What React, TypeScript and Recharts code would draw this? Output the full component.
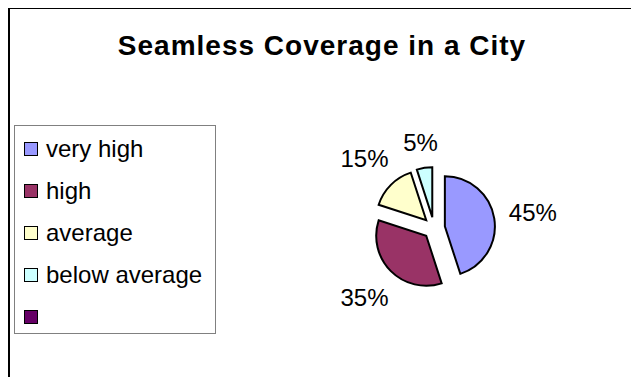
import React from "react";
import { PieChart, Pie, Cell, Legend, Sector } from "recharts";

const categories = ["very high", "high", "average", "below average", ""];
const values = [45, 35, 15, 5, 0];
const colors = ["#9999FF", "#993366", "#FFFFCC", "#CCFFFF", "#660066"];

const data = categories.map((name, i) => ({ name, value: values[i] }));

const RADIAN = Math.PI / 180;
const EXPLODE = 11;
const FONT = "Arial, 'Liberation Sans', sans-serif";
const LABEL_SIZE = 24;

// each slice is pushed out along its own bisector
const ExplodedSlice = (props: any) => {
  if (!props.value) return null;
  const { cx, cy, midAngle } = props;
  const dx = EXPLODE * Math.cos(-midAngle * RADIAN);
  const dy = EXPLODE * Math.sin(-midAngle * RADIAN);
  return <Sector {...props} cx={cx + dx} cy={cy + dy} stroke="#000" strokeWidth={2} />;
};

const renderLabel = (props: any) => {
  const { cx, cy, midAngle, outerRadius, percent, value } = props;
  if (!value) return null;
  const text = `${Math.round(percent * 100)}%`;
  const cos = Math.cos(-midAngle * RADIAN);
  const sin = Math.sin(-midAngle * RADIAN);
  // half the text box, so the box edge sits a fixed gap off the slice
  const halfW = ((text.length - 1) * 0.556 + 0.889) * LABEL_SIZE * 0.5;
  const halfH = LABEL_SIZE * 0.37;
  const r = outerRadius + EXPLODE + 14 + halfW * Math.abs(cos) + halfH * Math.abs(sin);
  return (
    <text
      x={cx + r * cos}
      y={cy + r * sin}
      textAnchor="middle"
      dominantBaseline="central"
      fill="#000"
      fontSize={LABEL_SIZE}
      fontFamily={FONT}
    >
      {text}
    </text>
  );
};

const LegendBox = () => (
  <div style={{ fontFamily: FONT, fontSize: 24, color: "#000", paddingTop: 2 }}>
    {categories.map((name, i) => (
      <div key={`legend-${i}`} style={{ display: "flex", alignItems: "center", height: 42 }}>
        <span
          style={{
            display: "inline-block",
            width: 12,
            height: 12,
            background: colors[i],
            border: "1px solid #000",
            marginLeft: 9,
            marginRight: 8,
          }}
        />
        <span>{name}</span>
      </div>
    ))}
  </div>
);

const App: React.FC = () => {
  return (
    <div
      style={{
        position: "relative",
        marginLeft: -1,
        marginTop: -1,
        width: 628,
        height: 368,
        borderLeft: "3px solid #000",
        borderTop: "2px solid #000",
        background: "#fff",
      }}
    >
      <div
        style={{
          position: "absolute",
          left: 0,
          top: 23,
          width: 624,
          textAlign: "center",
          fontFamily: FONT,
          fontWeight: "bold",
          fontSize: 28,
          lineHeight: "28px",
          letterSpacing: 1,
        }}
      >
        Seamless Coverage in a City
      </div>
      <PieChart width={628} height={368} margin={{ top: 0, right: 0, bottom: 0, left: 0 }}>
        <Pie
          data={data}
          dataKey="value"
          nameKey="name"
          cx={424}
          cy={219}
          outerRadius={50}
          startAngle={90}
          endAngle={-270}
          labelLine={false}
          label={renderLabel}
          shape={ExplodedSlice}
          isAnimationActive={false}
        >
          {data.map((entry, index) => (
            <Cell key={`cell-${index}`} fill={colors[index]} />
          ))}
        </Pie>
        <Legend
          content={<LegendBox />}
          wrapperStyle={{
            left: 4,
            top: 116,
            width: 202,
            height: 209,
            border: "1px solid #808080",
            boxSizing: "border-box",
            background: "#fff",
          }}
        />
      </PieChart>
    </div>
  );
};

export default App;
